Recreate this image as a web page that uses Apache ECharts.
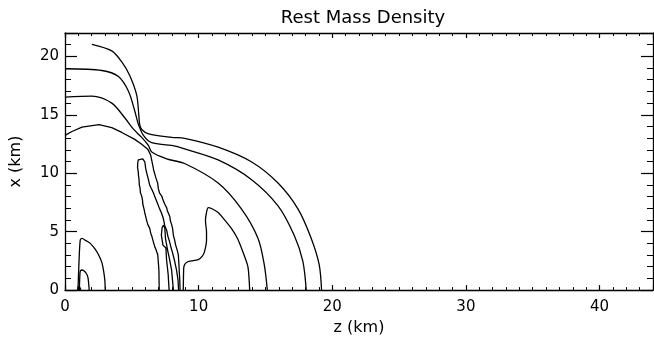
<!DOCTYPE html>
<html>
<head>
<meta charset="utf-8">
<script src="https://cdn.jsdelivr.net/npm/echarts@6/dist/echarts.min.js"></script>
<style>
  html, body { margin: 0; padding: 0; background: #fff; }
  #chart { width: 654px; height: 341px; }
</style>
</head>
<body>
<div id="chart"></div>
<script>
// tick labels
const xTicks = [0, 10, 20, 30, 40];
const yTicks = [0, 5, 10, 15, 20];

// contour lines, [z (km), x (km)]
const arcA = [[2.01,21.03],[3.50,20.47],[4.25,19.52],[4.85,18.35],[5.37,16.67],[5.52,15.00],[5.59,14.16],[5.74,13.74],[6.26,13.36],[7.98,13.07],[8.95,12.99],[11.46,12.23],[13.94,10.98],[15.94,9.16],[17.43,6.95],[18.42,4.44],[19.02,2.18],[19.20,0]];
const arcB = [[0,18.94],[2.76,18.79],[4.00,18.27],[4.75,17.01],[5.22,15.33],[5.50,14.16],[5.87,13.24],[6.49,12.61],[7.98,12.38],[8.95,12.09],[11.46,11.14],[13.94,9.47],[15.94,7.21],[17.15,4.69],[17.80,2.45],[18.05,0]];
const arcC = [[0,16.51],[2.01,16.59],[3.50,16.00],[4.47,14.75],[5.12,13.77],[5.74,13.07],[6.24,12.38],[6.49,11.81],[7.61,11.23],[8.95,10.83],[11.46,9.16],[13.20,6.95],[14.44,4.44],[14.91,2.18],[15.14,0]];
const lineD = [[0,13.24],[0.52,13.57],[1.27,13.95],[2.54,14.16],[3.50,13.91],[4.25,13.49],[5.22,12.90],[5.74,12.48],[6.19,12.06],[6.41,11.56],[6.56,10.72],[6.63,10.3],[6.71,9.97],[6.80,9.6],[6.94,9.13],[6.98,8.7],[7.08,8.29],[7.24,8.05],[7.31,7.79],[7.46,7.37],[7.61,7.04],[7.66,6.8],[7.73,6.64],[7.84,6.3],[7.88,5.95],[7.98,5.6],[8.05,5.28],[8.11,4.69],[8.20,4.3],[8.28,3.85],[8.40,3.4],[8.48,3.02],[8.52,2.3],[8.55,1.62],[8.59,0.8],[8.61,0]];
const loopE = [[7.05,0],[7.04,0.8],[7.03,1.62],[6.99,2.3],[6.94,3.02],[6.80,3.5],[6.72,3.7],[6.61,4.13],[6.50,4.6],[6.42,4.85],[6.34,5.28],[6.20,5.6],[6.11,5.95],[6.05,6.25],[5.97,6.62],[5.92,6.9],[5.82,7.37],[5.80,7.7],[5.74,8.04],[5.64,8.35],[5.62,8.71],[5.56,9.0],[5.54,9.47],[5.50,9.8],[5.48,10.14],[5.43,10.5],[5.44,10.81],[5.48,11.14],[5.62,11.31],[5.82,11.23],[5.97,10.98],[6.04,10.39],[6.12,10.0],[6.24,9.47],[6.34,8.97],[6.49,8.63],[6.62,8.3],[6.71,8.04],[6.94,7.37],[7.08,6.95],[7.22,6.6],[7.36,6.12],[7.46,5.53],[7.61,5.11],[7.70,4.6],[7.83,4.13],[7.92,3.7],[8.05,3.18],[8.20,2.51],[8.35,1.68],[8.46,0.84],[8.50,0]];
const loopF = [[7.79,0],[7.72,1.34],[7.60,2.6],[7.55,3.6],[7.45,3.75],[7.33,3.85],[7.21,4.7],[7.27,5.36],[7.38,5.56],[7.47,5.3],[7.52,4.4],[7.68,3.4],[7.83,2.6],[7.98,1.68],[8.11,0]];
const bumpG = [[8.85,0],[8.87,1.34],[8.90,2.04],[9.22,2.45],[9.97,2.60],[10.29,2.93],[10.44,3.29],[10.59,4.27],[10.59,4.97],[10.51,5.95],[10.59,6.64],[10.72,7.06],[10.96,6.98],[11.46,6.64],[11.93,6.03],[12.45,5.28],[12.90,4.44],[13.20,3.60],[13.50,2.68],[13.70,1.93],[13.82,0]];
const coreH = [[0.97,0],[1.04,2.18],[1.14,4.27],[1.27,4.42],[1.57,4.23],[1.89,4.00],[2.24,3.52],[2.51,3.02],[2.76,2.35],[2.89,1.62],[2.98,0.84],[3.01,0]];
const coreI = [[1.07,0],[1.10,0.92],[1.14,1.62],[1.27,1.72],[1.39,1.68],[1.60,1.42],[1.72,1.06],[1.81,0]];
const coreDot = [[1.0,0],[1.03,0.3],[1.1,0.35],[1.15,0]];

const smoothLines = [arcA, arcB, arcC, bumpG, coreH, coreI];
const roughLines = [lineD, loopE, loopF];

function initChart() {
  let myChart = echarts.init(document.getElementById('chart'), null, { renderer: 'canvas' });
  const font = 'DejaVu Sans';

  function axisX(pos, labels) {
    return {
      type: 'value', position: pos, min: 0, max: 44, interval: 10,
      name: labels ? 'z (km)' : '', nameLocation: 'middle', nameGap: 25,
      nameTextStyle: { color: '#000', fontFamily: font, fontSize: 16 },
      axisLine: { show: true, onZero: false, lineStyle: { color: '#000', width: 1.3 } },
      axisTick: { show: true, inside: true, length: 5, lineStyle: { color: '#000', width: 1.2 } },
      minorTick: { show: true, splitNumber: 10, length: 3, lineStyle: { color: '#000', width: 1 } },
      axisLabel: { show: labels, color: '#000', fontFamily: font, fontSize: 15, margin: 10, showMaxLabel: false,
        formatter: v => xTicks.indexOf(v) >= 0 ? String(v) : '' },
      splitLine: { show: false }
    };
  }
  function axisY(pos, labels) {
    return {
      type: 'value', position: pos, min: 0, max: 22, interval: 5,
      name: labels ? 'x (km)' : '', nameLocation: 'middle', nameGap: 41, nameRotate: 90,
      nameTextStyle: { color: '#000', fontFamily: font, fontSize: 16 },
      axisLine: { show: true, onZero: false, lineStyle: { color: '#000', width: 1.3 } },
      axisTick: { show: true, inside: true, length: 12, lineStyle: { color: '#000', width: 1.2 } },
      minorTick: { show: true, splitNumber: 5, length: 6, lineStyle: { color: '#000', width: 1 } },
      axisLabel: { show: labels, color: '#000', fontFamily: font, fontSize: 15, margin: 6, showMaxLabel: false,
        formatter: v => yTicks.indexOf(v) >= 0 ? String(v) : '' },
      splitLine: { show: false }
    };
  }

  let series = [];
  smoothLines.forEach(d => series.push({
    type: 'line', data: d, showSymbol: false, symbol: 'none', smooth: 0.3,
    lineStyle: { color: '#000', width: 1.3 }, silent: true
  }));
  roughLines.forEach(d => series.push({
    type: 'line', data: d, showSymbol: false, symbol: 'none', smooth: false,
    lineStyle: { color: '#000', width: 1.3 }, silent: true
  }));
  series.push({
    type: 'line', data: coreDot, showSymbol: false, symbol: 'none',
    lineStyle: { color: '#000', width: 2.5 }, silent: true
  });

  let option = {
    animation: false,
    backgroundColor: '#fff',
    title: {
      text: 'Rest Mass Density', left: 358, top: 4, textAlign: 'center',
      textStyle: { color: '#000', fontFamily: font, fontWeight: 'normal', fontSize: 18 }
    },
    grid: { left: 63, right: 1, top: 33, bottom: 45, containLabel: false },
    xAxis: [axisX('bottom', true), axisX('top', false)],
    yAxis: [axisY('left', true), axisY('right', false)],
    series: series
  };

  myChart.setOption(option);
  return myChart;
}
initChart();
</script>
</body>
</html>
